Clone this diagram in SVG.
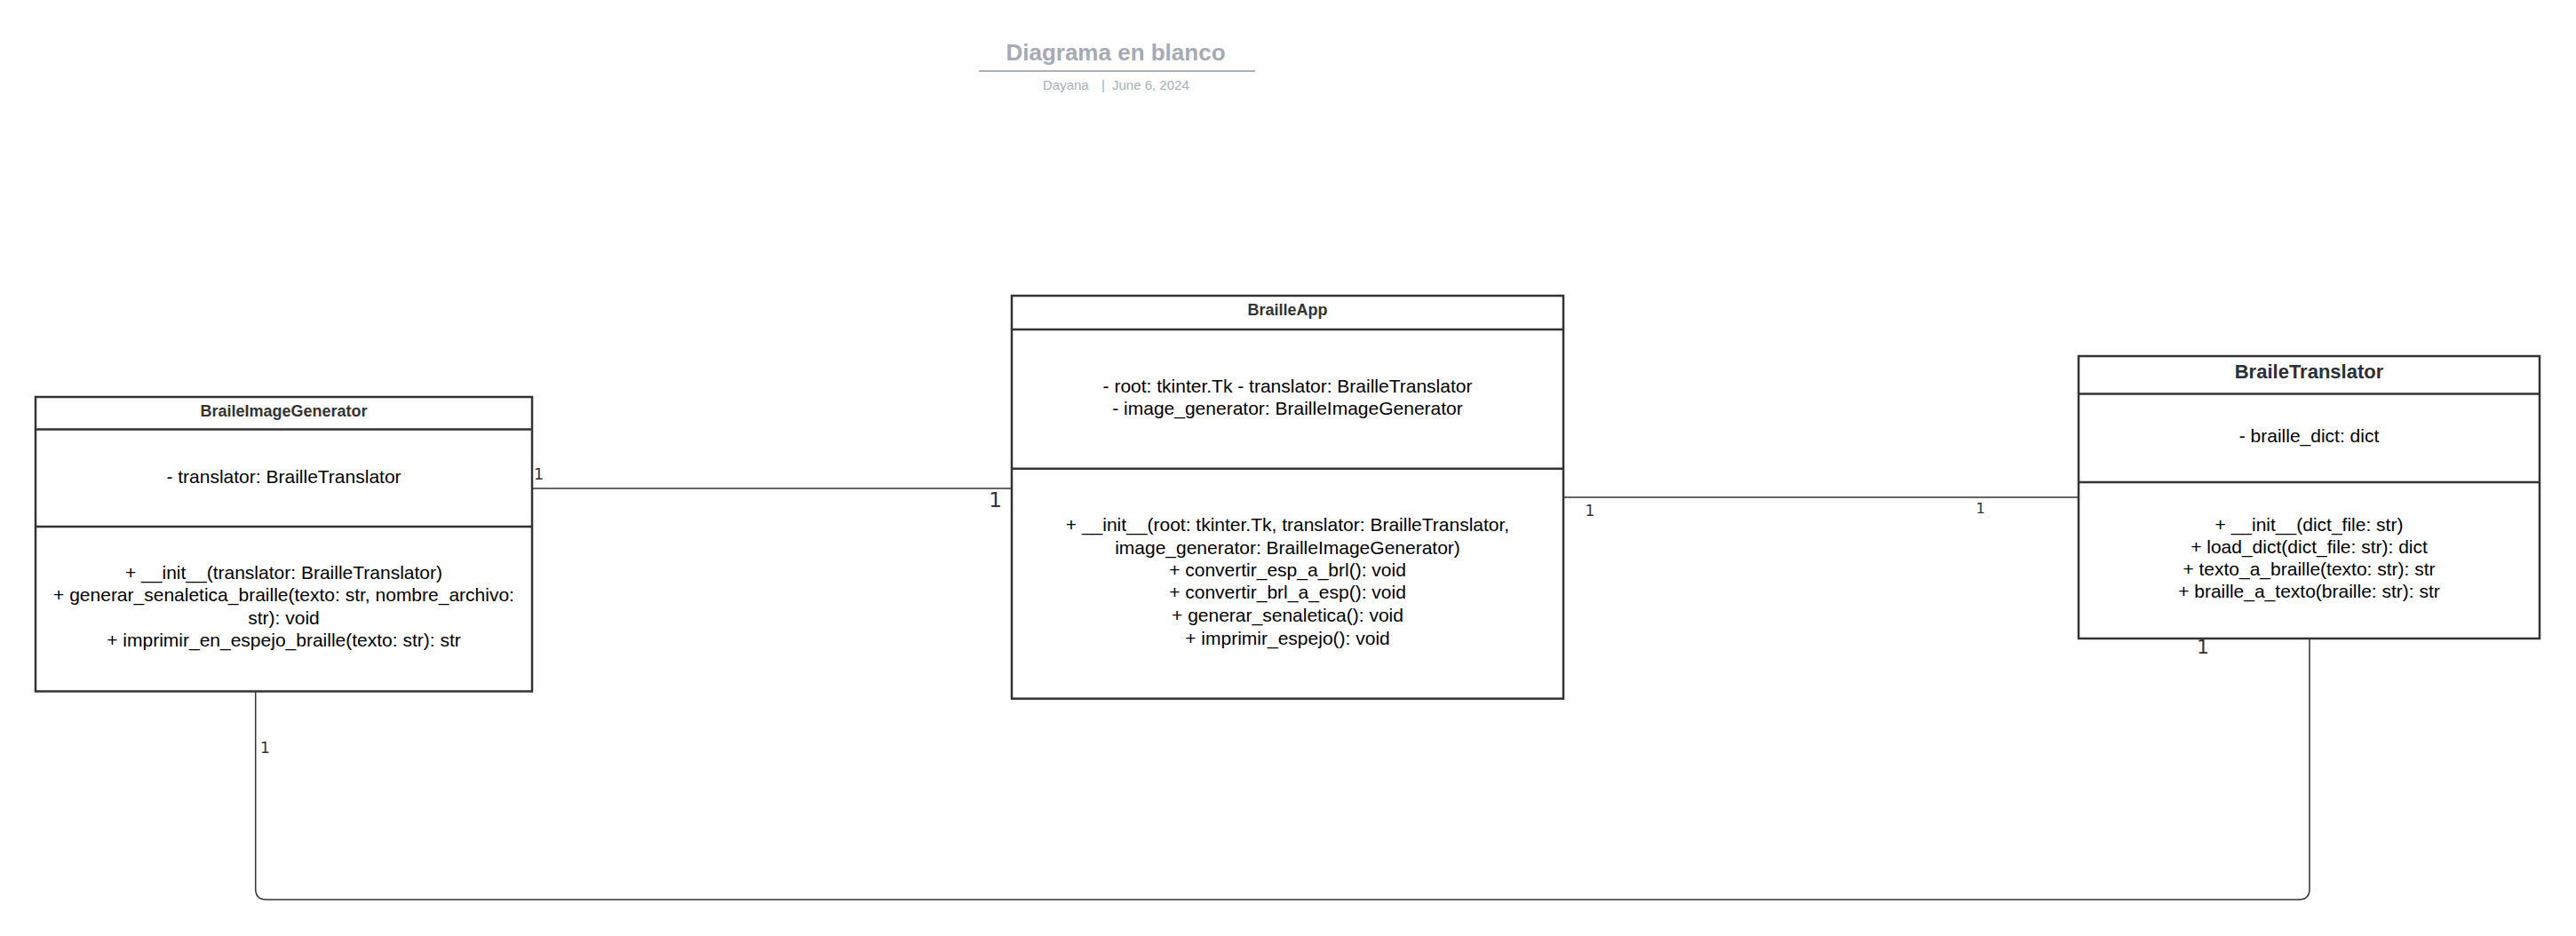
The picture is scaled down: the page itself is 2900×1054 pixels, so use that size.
<svg xmlns="http://www.w3.org/2000/svg" width="2900" height="1054" viewBox="0 0 2900 1054">
<style>
.box{fill:#fff;stroke:#333;stroke-width:2.5}
.div{stroke:#333;stroke-width:2.5}
.ttl{font-family:"Liberation Sans",Arial,sans-serif;font-weight:bold;font-size:18px;fill:#333;text-anchor:middle}
.txt{font-family:"Liberation Sans",Arial,sans-serif;font-size:21px;fill:#000;text-anchor:middle}
.con{fill:none;stroke:#333;stroke-width:1.5}
.lbl{font-family:"DejaVu Sans",sans-serif;fill:#333;text-anchor:middle}
</style>
<rect width="2900" height="1054" fill="#fff"/>
<g id="header">
<text x="1256" y="68" font-family="Liberation Sans,Arial,sans-serif" font-weight="bold" font-size="26" fill="#a5abb4" text-anchor="middle">Diagrama en blanco</text>
<line x1="1102" y1="80" x2="1413" y2="80" stroke="#a9aeb7" stroke-width="2"/>
<text x="1174" y="101" font-family="Liberation Sans,Arial,sans-serif" font-size="15" fill="#a9aeb7">Dayana</text>
<text x="1240" y="101" font-family="Liberation Sans,Arial,sans-serif" font-size="15" fill="#a9aeb7">|</text>
<text x="1252" y="101" font-family="Liberation Sans,Arial,sans-serif" font-size="15" fill="#a9aeb7">June 6, 2024</text>
</g>
<g id="connectors">
<line class="con" x1="600" y1="550" x2="1139" y2="550"/>
<line class="con" x1="1760" y1="560" x2="2340" y2="560"/>
<path class="con" d="M287.7 779 V1001 Q287.7 1013 300 1013 H2588 Q2600 1013 2600 1001 V719"/>
<text class="lbl" x="606.5" y="540" font-size="18">1</text>
<text class="lbl" x="1120.5" y="571" font-size="23">1</text>
<text class="lbl" x="1790" y="581" font-size="17">1</text>
<text class="lbl" x="2229.5" y="578" font-size="16">1</text>
<text class="lbl" x="2480" y="736" font-size="22">1</text>
<text class="lbl" x="298.5" y="848" font-size="17">1</text>
</g>
<g id="BraileImageGenerator">
<rect class="box" x="40" y="447" width="559" height="331.5"/>
<line class="div" x1="40" y1="483.5" x2="599" y2="483.5"/>
<line class="div" x1="40" y1="593" x2="599" y2="593"/>
<text class="ttl" x="319.5" y="469.3">BraileImageGenerator</text>
<text class="txt" x="319.5" y="544">- translator: BrailleTranslator</text>
<text class="txt" x="319.5" y="651.7">+ __init__(translator: BrailleTranslator)</text>
<text class="txt" x="319.5" y="677.3">+ generar_senaletica_braille(texto: str, nombre_archivo:</text>
<text class="txt" x="319.5" y="702.7">str): void</text>
<text class="txt" x="319.5" y="728.3">+ imprimir_en_espejo_braille(texto: str): str</text>
</g>
<g id="BrailleApp">
<rect class="box" x="1139" y="333" width="621" height="453.7"/>
<line class="div" x1="1139" y1="371" x2="1760" y2="371"/>
<line class="div" x1="1139" y1="527.7" x2="1760" y2="527.7"/>
<text class="ttl" x="1449.5" y="355">BrailleApp</text>
<text class="txt" x="1449.5" y="441.7">- root: tkinter.Tk - translator: BrailleTranslator</text>
<text class="txt" x="1449.5" y="466.7">- image_generator: BrailleImageGenerator</text>
<text class="txt" x="1449.5" y="598.3">+ __init__(root: tkinter.Tk, translator: BrailleTranslator,</text>
<text class="txt" x="1449.5" y="624">image_generator: BrailleImageGenerator)</text>
<text class="txt" x="1449.5" y="649.3">+ convertir_esp_a_brl(): void</text>
<text class="txt" x="1449.5" y="674.3">+ convertir_brl_a_esp(): void</text>
<text class="txt" x="1449.5" y="700">+ generar_senaletica(): void</text>
<text class="txt" x="1449.5" y="725.7">+ imprimir_espejo(): void</text>
</g>
<g id="BraileTranslator">
<rect class="box" x="2340" y="401" width="519" height="318"/>
<line class="div" x1="2340" y1="443.5" x2="2859" y2="443.5"/>
<line class="div" x1="2340" y1="543" x2="2859" y2="543"/>
<text class="ttl" x="2599.5" y="426.4" style="font-size:22px;fill:#2b2f36">BraileTranslator</text>
<text class="txt" x="2599.5" y="498">- braille_dict: dict</text>
<text class="txt" x="2599.5" y="598.3">+ __init__(dict_file: str)</text>
<text class="txt" x="2599.5" y="623.3">+ load_dict(dict_file: str): dict</text>
<text class="txt" x="2599.5" y="648.3">+ texto_a_braille(texto: str): str</text>
<text class="txt" x="2599.5" y="673.3">+ braille_a_texto(braille: str): str</text>
</g>
</svg>
